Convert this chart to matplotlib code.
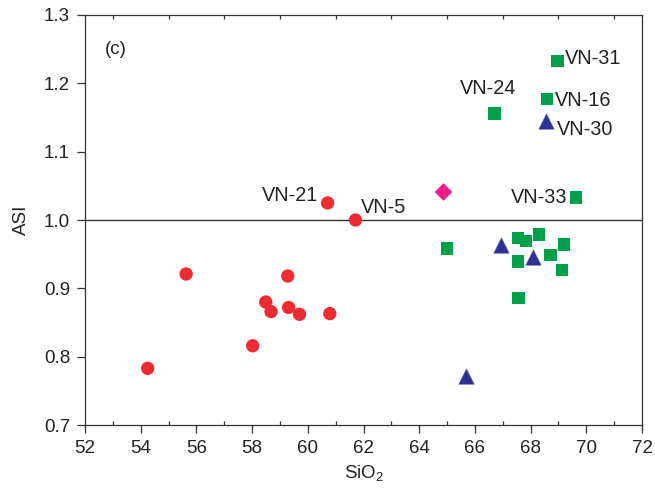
import matplotlib
matplotlib.use("Agg")
import matplotlib.pyplot as plt
from matplotlib.ticker import MultipleLocator

plt.rcParams['font.family'] = ['Liberation Sans', 'DejaVu Sans']
plt.rcParams['mathtext.fontset'] = 'custom'
plt.rcParams['mathtext.rm'] = 'Liberation Sans'
plt.rcParams['mathtext.default'] = 'regular'

# red circles
circ_x = [60.71, 61.71, 55.63, 59.28, 58.49, 58.68, 59.31, 59.70, 60.79, 58.02, 54.25]
circ_y = [1.025, 1.000, 0.921, 0.918, 0.880, 0.866, 0.872, 0.862, 0.863, 0.816, 0.783]

# green squares
sq_x = [68.96, 68.58, 66.70, 69.62, 65.00, 67.54, 67.84, 68.30, 69.20, 68.71, 67.54, 69.12, 67.56]
sq_y = [1.233, 1.177, 1.156, 1.033, 0.958, 0.974, 0.969, 0.979, 0.964, 0.949, 0.939, 0.927, 0.886]

# blue triangles
tri_x = [68.55, 66.95, 68.07, 65.68]
tri_y = [1.145, 0.964, 0.946, 0.772]

# pink diamond
dia_x = [64.87]
dia_y = [1.041]

# sample labels: (text, x, y, ha)
labels = [
    ("VN-31", 69.22, 1.236, 'left'),
    ("VN-16", 68.86, 1.175, 'left'),
    ("VN-30", 68.93, 1.132, 'left'),
    ("VN-24", 66.47, 1.192, 'center'),
    ("VN-33", 69.32, 1.033, 'right'),
    ("VN-21", 60.38, 1.036, 'right'),
    ("VN-5", 61.90, 1.019, 'left'),
]

fig = plt.figure(figsize=(6.55, 4.96), dpi=100)
ax = fig.add_axes([0.1298, 0.1431, 0.8504, 0.8267])

ax.axhline(1.0, color='#333333', lw=1.0, zorder=1)

ax.scatter(circ_x, circ_y, s=92, marker='o', color='#EE2A32', edgecolors='none', zorder=3)
ax.scatter(sq_x, sq_y, s=80, marker='s', color='#00A04B', edgecolors='none', zorder=3)
ax.scatter(tri_x, tri_y, s=125, marker='^', color='#2E3192', edgecolors='#6A6EB8',
           linewidths=0.4, zorder=3)
ax.scatter(dia_x, dia_y, s=80, marker='D', color='#EC1C8C', edgecolors='none', zorder=3)

for txt, x, y, ha in labels:
    ax.text(x, y, txt, ha=ha, va='center', fontsize=14.3, color='#222222')

ax.text(52.72, 1.249, "(c)", ha='left', va='center', fontsize=13.5, color='#222222')

ax.set_xlim(52, 72)
ax.set_ylim(0.7, 1.3)
ax.xaxis.set_major_locator(MultipleLocator(2))
ax.xaxis.set_minor_locator(MultipleLocator(1))
ax.set_yticks([0.7, 0.8, 0.9, 1.0, 1.1, 1.2, 1.3])
ax.set_yticklabels(["0.7", "0.8", "0.9", "1.0", "1.1", "1.2", "1.3"])

ax.tick_params(axis='both', which='major', direction='out', length=5.8, width=0.9,
               labelsize=13.5, colors='#333333', labelcolor='#222222', pad=5)
ax.tick_params(axis='x', which='minor', direction='in', length=3, width=0.9,
               top=True, bottom=True, colors='#333333')
ax.tick_params(axis='x', which='major', top=False)

for sp in ax.spines.values():
    sp.set_color('#333333')
    sp.set_linewidth(0.9)

ax.set_xlabel("SiO$_2$", fontsize=13.5, color='#222222', labelpad=4)
ax.set_ylabel("ASI", fontsize=13.5, color='#222222', labelpad=10)

plt.savefig("out.png", dpi=100)
